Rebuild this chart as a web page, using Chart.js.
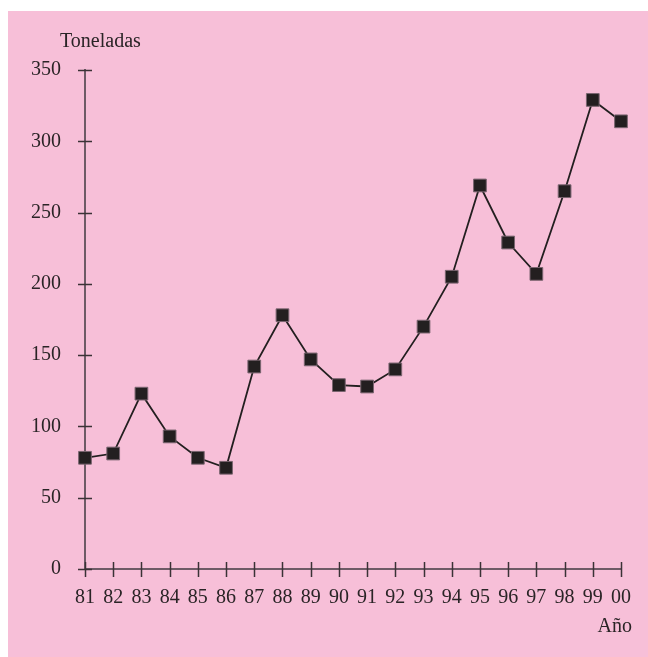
<!DOCTYPE html>
<html>
<head>
<meta charset="utf-8">
<script src="https://cdn.jsdelivr.net/npm/chart.js@4/dist/chart.umd.min.js"></script>
<style>
  body { margin: 0; background: #ffffff; }
  #box { position: absolute; left: 8px; top: 11px; width: 640px; height: 646px; background: #f7bfd8; }
</style>
</head>
<body>
<div id="box"><canvas id="chart"></canvas></div>
<script>
const years = ["81","82","83","84","85","86","87","88","89","90","91","92","93","94","95","96","97","98","99","00"];
const toneladas = [78, 81, 123, 93, 78, 71, 142, 178, 147, 129, 128, 140, 170, 205, 269, 229, 207, 265, 329, 314];
const yTicks = [0, 50, 100, 150, 200, 250, 300, 350];

const fuente = "Liberation Serif, Times New Roman, serif";
const colorTexto = "#2a2426";

// marcas que cruzan los ejes y los rotulos "Toneladas" / "Año"
const marcas = {
  id: "marcas",
  afterDraw(chart) {
    const { ctx, chartArea, scales } = chart;
    const x = scales.x, y = scales.y;
    ctx.save();
    ctx.strokeStyle = "#3b3236";
    ctx.lineWidth = 1.5;
    ctx.beginPath();
    yTicks.forEach(v => {
      const py = Math.round(y.getPixelForValue(v)) + 0.5;
      ctx.moveTo(chartArea.left - 7, py);
      ctx.lineTo(chartArea.left + 7, py);
    });
    years.forEach((lab, i) => {
      const px = Math.round(x.getPixelForValue(i)) + 0.5;
      ctx.moveTo(px, chartArea.bottom - 7);
      ctx.lineTo(px, chartArea.bottom + 8);
    });
    ctx.stroke();
    ctx.fillStyle = colorTexto;
    ctx.font = "20px " + fuente;
    ctx.textBaseline = "middle";
    ctx.textAlign = "left";
    ctx.fillText("Toneladas", chartArea.left - 25, chartArea.top - 28);
    ctx.textAlign = "right";
    ctx.fillText("Año", chartArea.right + 11, chartArea.bottom + 58);
    ctx.restore();
  }
};

new Chart(document.getElementById("chart"), {
  type: "line",
  data: {
    labels: years,
    datasets: [{
      data: toneladas,
      borderColor: "#231f20",
      borderWidth: 1.8,
      pointStyle: "rect",
      pointRadius: 9,
      pointBackgroundColor: "#231f20",
      pointBorderColor: "#7a6570",
      pointBorderWidth: 1,
      tension: 0
    }]
  },
  options: {
    responsive: true,
    maintainAspectRatio: false,
    animation: false,
    layout: { padding: { left: 0, top: 59, right: 27, bottom: 0 } },
    plugins: { legend: { display: false }, tooltip: { enabled: false } },
    scales: {
      x: {
        offset: false,
        grid: { display: false, drawTicks: false },
        border: { display: true, color: "#6e5a66", width: 2 },
        ticks: { color: colorTexto, font: { family: fuente, size: 20 }, padding: 17, maxRotation: 0, autoSkip: false },
        afterFit: s => { s.height = 88; }
      },
      y: {
        min: 0,
        max: 350,
        grid: { display: false, drawTicks: false },
        border: { display: true, color: "#6e5a66", width: 2 },
        ticks: { color: colorTexto, font: { family: fuente, size: 20 }, padding: 24, stepSize: 50 },
        afterFit: s => { s.width = 77; }
      }
    }
  },
  plugins: [marcas]
});
</script>
</body>
</html>
